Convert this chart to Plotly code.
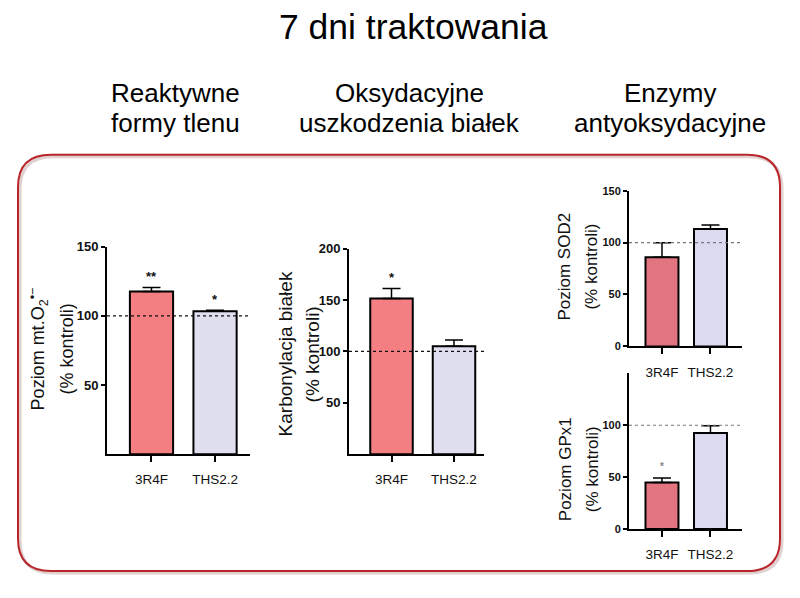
import plotly.graph_objects as go

# values (% of control)
categories = ["3R4F", "THS2.2"]

ros_mean = [117.6, 103.2]
ros_err = [2.8, 0.8]
ros_stars = ["**", "*"]

carb_mean = [151.5, 105.0]
carb_err = [9.7, 6.0]
carb_stars = ["*", ""]

sod2_mean = [85.9, 113.0]
sod2_err = [14.0, 4.0]
sod2_stars = ["", ""]

gpx1_mean = [44.8, 92.6]
gpx1_err = [4.5, 7.0]
gpx1_stars = ["*", ""]

W, H = 800, 598
FONT = "Liberation Sans, Arial, sans-serif"

# the photographed page comes out slightly squeezed vertically, pre-stretch
Y_OFF, Y_SCALE = 5.0, 0.98


def px(x):
    return x / W


def py(y):
    return 1 - ((y - Y_OFF) / Y_SCALE) / H


fig = go.Figure()

panels = [
    dict(mean=ros_mean, err=ros_err, stars=ros_stars,
         colors=["#F47F82", "#DFDFF0"], x0=107, x1=250, ytop=245, ybot=453,
         yr=[0, 150], tv=[50, 100, 150], xr=[-0.70, 1.55], tfs=13,
         title=["Poziom mt.O<sub>2</sub><sup>•−</sup>", "(% kontroli)"],
         tx=[38, 67], ty=348, tsz=18, starsz=13, starcol="#111", dotcol="#111"),
    dict(mean=carb_mean, err=carb_err, stars=carb_stars,
         colors=["#F47F82", "#DFDFF0"], x0=349, x1=484, ytop=247, ybot=453,
         yr=[0, 200], tv=[50, 100, 150, 200], xr=[-0.68, 1.48], tfs=13,
         title=["Karbonylacja białek", "(% kontroli)"],
         tx=[285, 312], ty=353, tsz=19, starsz=13, starcol="#111", dotcol="#111"),
    dict(mean=sod2_mean, err=sod2_err, stars=sod2_stars,
         colors=["#E37580", "#DCDAF0"], x0=629, x1=742, ytop=189, ybot=345,
         yr=[0, 150], tv=[0, 50, 100, 150], xr=[-0.68, 1.65], tfs=11,
         title=["Poziom SOD2", "(% kontroli)"],
         tx=[565, 592], ty=265, tsz=17, starsz=10, starcol="#888", dotcol="#777"),
    dict(mean=gpx1_mean, err=gpx1_err, stars=gpx1_stars,
         colors=["#E37580", "#DCDAF0"], x0=629, x1=742, ytop=372, ybot=528,
         yr=[0, 150], tv=[0, 50, 100], xr=[-0.68, 1.65], tfs=11,
         title=["Poziom GPx1", "(% kontroli)"],
         tx=[565, 592], ty=468, tsz=17, starsz=10, starcol="#888", dotcol="#777"),
]

layout = {}
annotations = []
shapes = []

for i, p in enumerate(panels, start=1):
    xa = "x" if i == 1 else f"x{i}"
    ya = "y" if i == 1 else f"y{i}"
    fig.add_trace(go.Bar(
        x=categories, y=p["mean"], xaxis=xa, yaxis=ya, width=0.68,
        marker=dict(color=p["colors"], line=dict(color="black", width=2)),
        error_y=dict(type="data", symmetric=False, array=p["err"],
                     arrayminus=[0, 0], color="black", thickness=1.5, width=9),
        showlegend=False, hoverinfo="skip",
    ))
    layout["xaxis" if i == 1 else f"xaxis{i}"] = dict(
        domain=[px(p["x0"]), px(p["x1"])], anchor=ya, type="category",
        range=p["xr"], showline=True, linecolor="black", linewidth=2,
        ticks="outside", ticklen=6, tickwidth=2, tickcolor="black",
        showgrid=False, zeroline=False, ticklabelstandoff=6,
        tickfont=dict(family=FONT, size=13.5, color="#111"),
    )
    layout["yaxis" if i == 1 else f"yaxis{i}"] = dict(
        domain=[py(p["ybot"]), py(p["ytop"])], anchor=xa,
        range=p["yr"], tickvals=p["tv"], showline=True, linecolor="black",
        linewidth=2, ticks="outside", ticklen=4, tickwidth=2, tickcolor="black",
        showgrid=False, zeroline=False,
        tickfont=dict(family=FONT, size=p["tfs"], color="#111", weight="bold"),
    )
    # dotted 100% control line
    shapes.append(dict(type="line", xref=f"{xa} domain", yref=ya, x0=0, x1=1,
                       y0=100, y1=100, line=dict(color=p["dotcol"], width=1.2, dash="dot")))
    # significance stars
    for c, m, e, s in zip(categories, p["mean"], p["err"], p["stars"]):
        if s:
            annotations.append(dict(x=c, y=m + e, xref=xa, yref=ya, text=s,
                                    showarrow=False, yanchor="middle", yshift=11,
                                    font=dict(family=FONT, size=p["starsz"],
                                              color=p["starcol"], weight="bold")))
    # y titles, one annotation per line
    for line, tx in zip(p["title"], p["tx"]):
        annotations.append(dict(x=px(tx), y=py(p["ty"]), xref="paper", yref="paper",
                                text=line, textangle=-90, showarrow=False,
                                xanchor="center", yanchor="middle",
                                font=dict(family=FONT, size=p["tsz"], color="#111")))

# headings
annotations.append(dict(x=px(414), y=py(25), xref="paper", yref="paper",
                        text="7 dni traktowania", showarrow=False,
                        xanchor="center", yanchor="middle",
                        font=dict(family=FONT, size=35.5, color="black")))
headings = [
    (175, ["Reaktywne", "formy tlenu"]),
    (410, ["Oksydacyjne", "uszkodzenia białek"]),
    (670, ["Enzymy", "antyoksydacyjne"]),
]
for hx, lines in headings:
    for line, hy in zip(lines, [91, 121]):
        annotations.append(dict(x=px(hx), y=py(hy), xref="paper", yref="paper",
                                text=line, showarrow=False,
                                xanchor="center", yanchor="middle",
                                font=dict(family=FONT, size=26, color="black")))


def rounded_rect(L, R, T, B, r):
    x_l, x_r = px(L), px(R)
    y_t, y_b = py(T), py(B)
    rx, ry = r / W, r / H
    return (f"M {x_l + rx},{y_t} L {x_r - rx},{y_t} Q {x_r},{y_t} {x_r},{y_t - ry} "
            f"L {x_r},{y_b + ry} Q {x_r},{y_b} {x_r - rx},{y_b} "
            f"L {x_l + rx},{y_b} Q {x_l},{y_b} {x_l},{y_b + ry} "
            f"L {x_l},{y_t - ry} Q {x_l},{y_t} {x_l + rx},{y_t} Z")


# soft shadow, then the red frame
shapes.append(dict(type="path", xref="paper", yref="paper",
                   path=rounded_rect(20, 782, 155, 572, 33),
                   line=dict(color="rgba(120,40,40,0.22)", width=3), layer="below"))
shapes.append(dict(type="path", xref="paper", yref="paper",
                   path=rounded_rect(18, 780, 153, 570, 33),
                   line=dict(color="#B8262B", width=2), layer="below"))

fig.update_layout(
    width=W, height=H, margin=dict(l=0, r=0, t=0, b=0),
    paper_bgcolor="white", plot_bgcolor="rgba(0,0,0,0)",
    annotations=annotations, shapes=shapes, **layout,
)

# drop the default page margin so the 800x598 figure fills the window exactly
page_css = ("document.documentElement.style.margin='0';"
            "document.body.style.margin='0';document.body.style.padding='0';"
            "document.documentElement.style.overflow='hidden';"
            "document.body.style.overflow='hidden';")
fig.write_html("out.html", config={"displayModeBar": False}, post_script=page_css)
